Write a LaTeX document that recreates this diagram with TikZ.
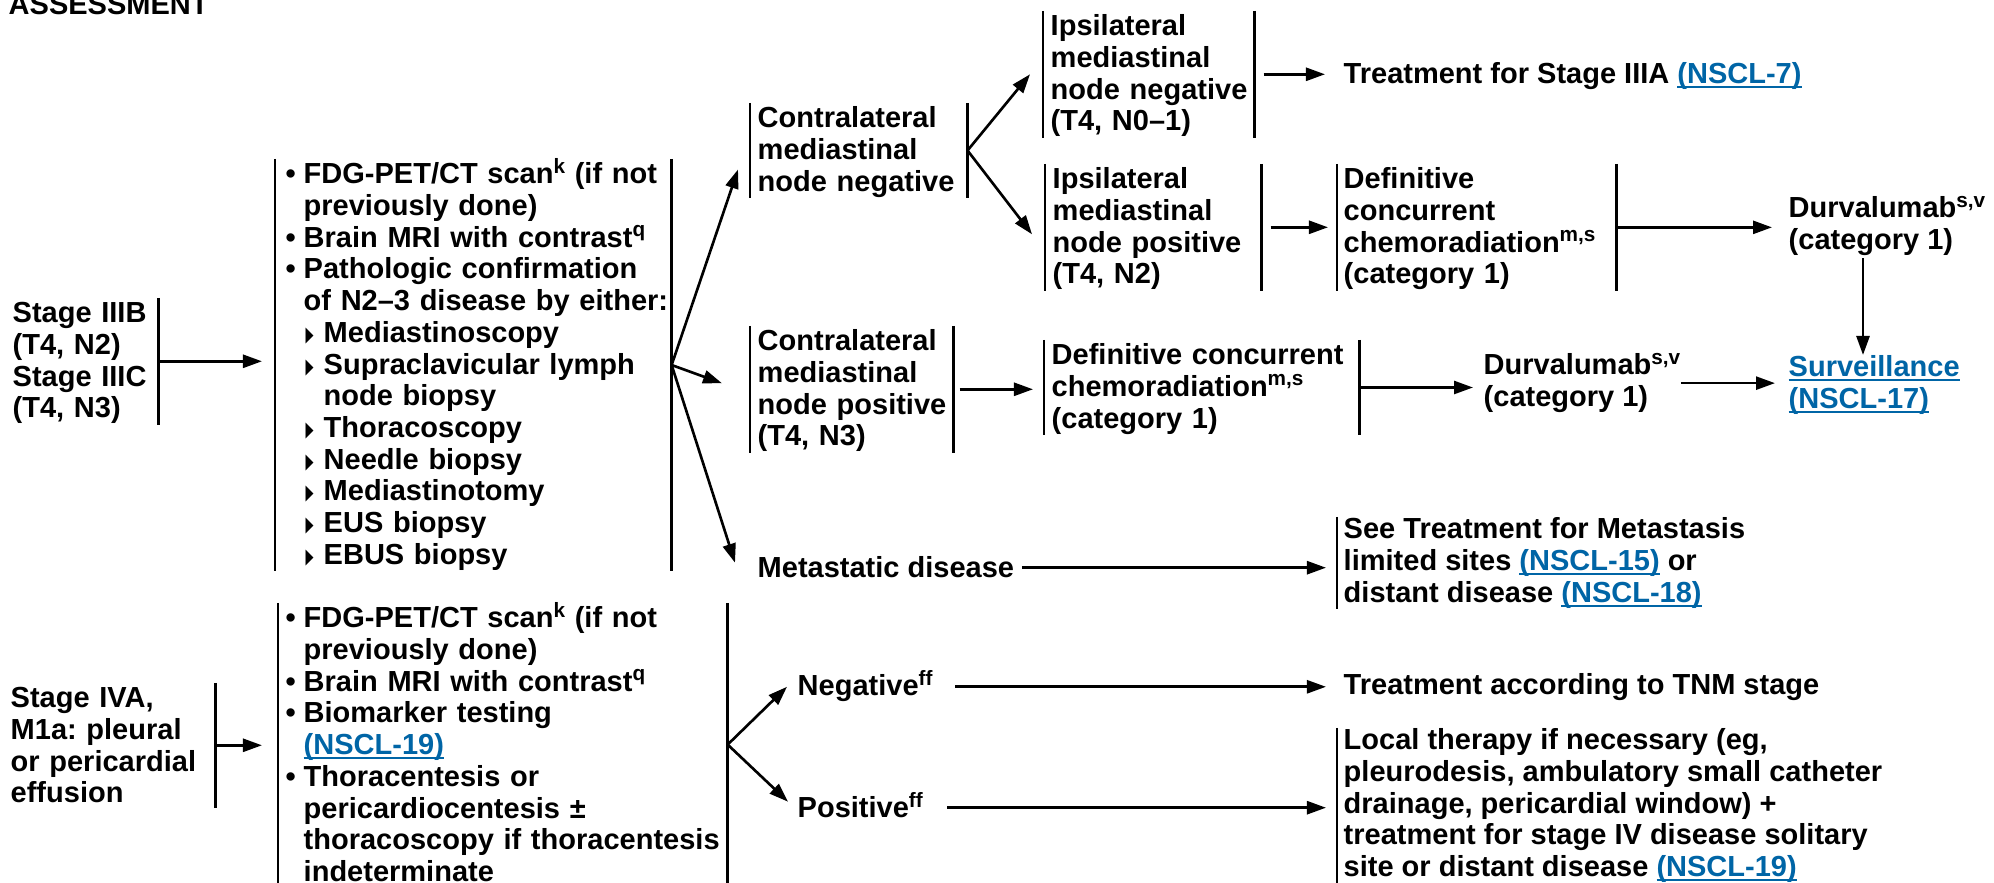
\documentclass[tikz,border=0pt]{standalone}
\usepackage{fontspec}
\setmainfont{Liberation Sans}
\newfontfamily\symfont{DejaVu Sans}
\usetikzlibrary{arrows.meta,calc}
\definecolor{linkblue}{RGB}{0,101,166}
\frenchspacing
% superscript note markers that do not change the line height
\newcommand\sups[1]{\smash{\raisebox{0.36em}{\fontsize{5.9pt}{6pt}\selectfont #1}}}
% underlined blue page reference
\newcommand\lnk[1]{{\color{linkblue}\setbox0\hbox{#1}\rlap{\rule[-1.3pt]{\wd0}{0.55pt}}\box0}}
\newcommand\mystrut{\rule[-0.04cm]{0pt}{0.28cm}}
\newcommand\bul{\makebox[0.18cm][l]{•}}
% small black pointer for the sub-items
\newcommand\tri{\hspace*{0.2cm}\makebox[0.18cm][l]{\raisebox{0.01cm}{\resizebox{0.08cm}{0.135cm}{\symfont ▶}}}}
\newcommand\ind[1]{\hspace*{#1cm}}

\begin{document}
\begin{tikzpicture}[x=0.01cm, y=-0.01cm,
  every node/.style={inner sep=0pt, font=\fontsize{8.25pt}{9.02pt}\selectfont\bfseries},
  txt/.style={anchor=north west, align=left,
    execute at begin node=\mystrut, execute at end node=\mystrut},
  bar/.style={line width=0.75pt},
  arr/.style={line width=0.75pt, -{Triangle[length=0.19cm,width=0.13cm]}},
]
\useasboundingbox[fill=white] (0,0) rectangle (1994,883);

\node[anchor=base west] (hdr) at (8,15) {ASSESSMENT};

% ---- stage IIIB/IIIC branch
\node[txt, text width=1.45cm] (stg1) at (12,298)
  {Stage IIIB\\(T4, N2)\\Stage IIIC\\(T4, N3)};
\node[txt, text width=3.85cm] (fdg1) at (285,159)
  {\bul FDG-PET/CT scan\sups{k} (if not\\\ind{0.18}previously done)\\
   \bul Brain MRI with contrast\sups{q}\\\bul Pathologic confirmation\\
   \ind{0.18}of N2–3 disease by either:\\\tri Mediastinoscopy\\
   \tri Supraclavicular lymph\\\ind{0.38}node biopsy\\\tri Thoracoscopy\\
   \tri Needle biopsy\\\tri Mediastinotomy\\\tri EUS biopsy\\\tri EBUS biopsy};

\node[txt, text width=2.09cm] (cneg) at (757,103)
  {Contralateral\\mediastinal\\node negative};
\node[txt, text width=1.95cm] (cpos) at (757,326)
  {Contralateral\\mediastinal\\node positive\\(T4, N3)};
\node[txt] (met) at (757,553) {Metastatic disease};

\node[txt, text width=2.03cm] (ineg) at (1050,11)
  {Ipsilateral\\mediastinal\\node negative\\(T4, N0–1)};
\node[txt, text width=2.08cm] (ipos) at (1052,164)
  {Ipsilateral\\mediastinal\\node positive\\(T4, N2)};
\node[txt] (iiia) at (1343,59) {Treatment for Stage IIIA \lnk{(NSCL-7)}};
\node[txt, text width=2.72cm] (def1) at (1343,164)
  {Definitive\\concurrent\\chemoradiation\sups{m,s}\\(category 1)};
\node[txt] (durv1) at (1788,196) {Durvalumab\sups{s,v}\\(category 1)};

\node[txt, text width=3.07cm] (def2) at (1051,340)
  {Definitive concurrent\\chemoradiation\sups{m,s}\\(category 1)};
\node[txt] (durv2) at (1483,353) {Durvalumab\sups{s,v}\\(category 1)};
\node[txt] (surv) at (1788,355) {\lnk{Surveillance}\\\lnk{(NSCL-17)}};

\node[txt] (seeT) at (1343,517)
  {See Treatment for Metastasis\\limited sites \lnk{(NSCL-15)} or\\
   distant disease \lnk{(NSCL-18)}};

% ---- stage IVA branch
\node[txt, text width=2.04cm] (stg2) at (10,683)
  {Stage IVA,\\M1a: pleural\\or pericardial\\effusion};
\node[txt, text width=4.41cm] (fdg2) at (285,603)
  {\bul FDG-PET/CT scan\sups{k} (if not\\\ind{0.18}previously done)\\
   \bul Brain MRI with contrast\sups{q}\\\bul Biomarker testing\\
   \ind{0.18}\lnk{(NSCL-19)}\\\bul Thoracentesis or\\
   \ind{0.18}pericardiocentesis ±\\\ind{0.18}thoracoscopy if thoracentesis\\
   \ind{0.18}indeterminate};
\node[txt] (neg) at (797,671) {Negative\sups{ff}};
\node[txt] (pos) at (797,793) {Positive\sups{ff}};
\node[txt] (tnm) at (1343,670) {Treatment according to TNM stage};
\node[txt] (local) at (1343,728)
  {Local therapy if necessary (eg,\\pleurodesis, ambulatory small catheter\\
   drainage, pericardial window) +\\treatment for stage IV disease solitary\\
   site or distant disease \lnk{(NSCL-19)}};

% ---- bracket bars
\foreach \n in {stg1,fdg1,cneg,cpos,ineg,ipos,def1,def2,stg2,fdg2}
  \draw[bar] (\n.north east) -- (\n.south east);
\foreach \n/\d in {fdg1/0.1,fdg2/0.07,cneg/0.07,cpos/0.07,ineg/0.07,ipos/0.07,
                   def1/0.06,def2/0.07,seeT/0.06,local/0.06}
  \draw[bar] ([xshift=-\d cm]\n.north west) -- ([xshift=-\d cm]\n.south west);

% ---- connectors
\draw[arr, shorten >=0.23cm] (stg1.east) -- (stg1.east -| fdg1.west);
\draw[arr] (fdg1.east) -- ($(cneg.west)+(-19,19)$);
\draw[arr] (fdg1.east) -- ($(cpos.west)+(-35,-6)$);
\draw[arr] (fdg1.east) -- ($(met.west)+(-22,-5)$);
\draw[arr] (cneg.east) -- ($(ineg.west)+(-20,0)$);
\draw[arr] (cneg.east) -- ($(ipos.west)+(-20,7)$);
\draw[arr, shorten >=0.18cm] ($(ineg.east)+(9,0)$) -- (ineg.east -| iiia.west);
\draw[arr, shorten >=0.15cm] ($(ipos.east)+(9,0)$) -- (ipos.east -| def1.west);
\draw[arr, shorten >=0.16cm] (def1.east) -- (def1.east -| durv1.west);
\draw[arr] ($(durv1.south west)+(75,2)$) -- ($(surv.north west)+(75,0)$);
\draw[arr, shorten >=0.18cm] ($(cpos.east)+(6,0)$) -- (cpos.east -| def2.west);
\draw[arr, shorten >=0.10cm] (def2.east) -- (def2.east -| durv2.west);
\draw[arr, shorten >=0.13cm] (durv2.east) -- (durv2.east -| surv.west);
\draw[arr, shorten >=0.17cm] ($(met.east)+(7,0)$) -- (met.east -| seeT.west);

\draw[arr, shorten >=0.23cm] (stg2.east) -- (stg2.east -| fdg2.west);
\draw[arr] (fdg2.east) -- ($(neg.west)+(-10,0)$);
\draw[arr] (fdg2.east) -- ($(pos.west)+(-9,-6)$);
\draw[arr, shorten >=0.17cm] ($(neg.east)+(22,0)$) -- (neg.east -| tnm.west);
\draw[arr, shorten >=0.17cm] ($(pos.east)+(24,0)$) -- (pos.east -| local.west);
\end{tikzpicture}
\end{document}
